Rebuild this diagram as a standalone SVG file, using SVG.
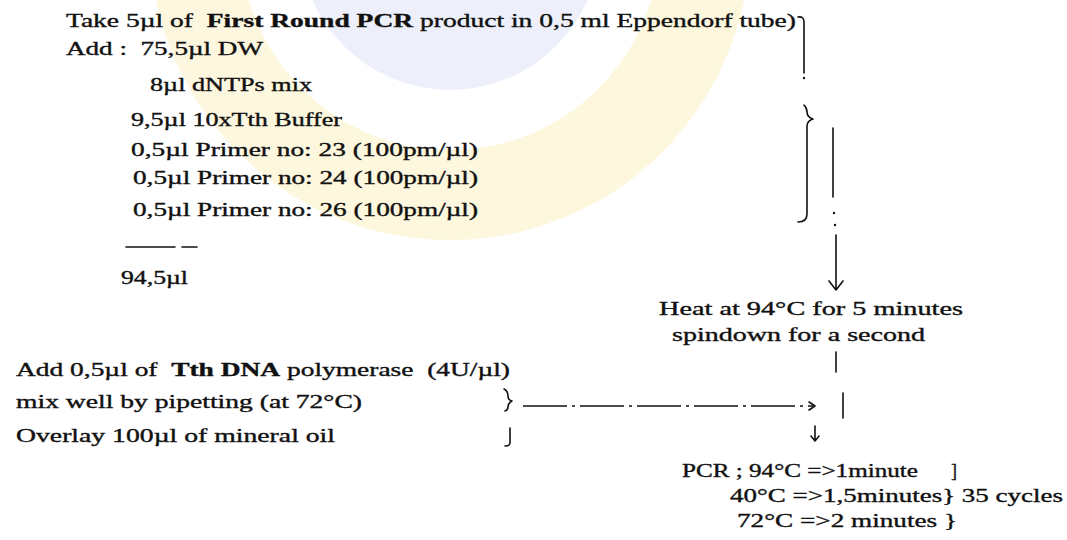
<svg xmlns="http://www.w3.org/2000/svg" width="1067" height="540" viewBox="0 0 1067 540">
<style>
  text { font-family: "Liberation Serif", "Times New Roman", serif; font-size: 18px; fill: #111; stroke: #111; stroke-width: 0.35; white-space: pre; }
  .b { font-weight: bold; }
  .ln { fill: none; stroke: #111; stroke-width: 1.6; stroke-linecap: round; stroke-linejoin: round; }
  .dash { fill: none; stroke: #111; stroke-width: 1.6; stroke-dasharray: 44 5 3 5; }
</style>
<rect width="1067" height="540" fill="#ffffff"/>
<g id="watermark" opacity="0.45">
  <circle cx="450" cy="-60" r="255" fill="none" stroke="#fbeeb8" stroke-width="90"/>
  <circle cx="450" cy="-60" r="150" fill="#d9dcf6"/>
</g>
<g id="step-take">
  <text x="66" y="27" textLength="730" lengthAdjust="spacingAndGlyphs">Take 5µl of  <tspan class="b">First Round PCR</tspan> product in 0,5 ml Eppendorf tube)</text>
</g>
<g id="step-add">
  <text x="66" y="55" textLength="197" lengthAdjust="spacingAndGlyphs">Add :  75,5µl DW</text>
  <text x="150" y="91" textLength="162" lengthAdjust="spacingAndGlyphs">8µl dNTPs mix</text>
  <text x="131" y="126" textLength="211" lengthAdjust="spacingAndGlyphs">9,5µl 10xTth Buffer</text>
  <text x="131" y="156" textLength="347" lengthAdjust="spacingAndGlyphs">0,5µl Primer no: 23 (100pm/µl)</text>
  <text x="133" y="184" textLength="345" lengthAdjust="spacingAndGlyphs">0,5µl Primer no: 24 (100pm/µl)</text>
  <text x="133" y="216" textLength="345" lengthAdjust="spacingAndGlyphs">0,5µl Primer no: 26 (100pm/µl)</text>
  <path class="ln" d="M126,247 H175 M182,247 H197"/>
  <text x="121" y="284" textLength="67" lengthAdjust="spacingAndGlyphs">94,5µl</text>
</g>
<g id="step-heat">
  <text x="659" y="315" textLength="304" lengthAdjust="spacingAndGlyphs">Heat at 94°C for 5 minutes</text>
  <text x="672" y="341" textLength="253" lengthAdjust="spacingAndGlyphs">spindown for a second</text>
</g>
<g id="step-polymerase">
  <text x="16" y="376" textLength="494" lengthAdjust="spacingAndGlyphs">Add 0,5µl of  <tspan class="b">Tth DNA</tspan> polymerase  (4U/µl)</text>
  <text x="16" y="408" textLength="346" lengthAdjust="spacingAndGlyphs">mix well by pipetting (at 72°C)</text>
  <text x="16" y="442" textLength="319" lengthAdjust="spacingAndGlyphs">Overlay 100µl of mineral oil</text>
</g>
<g id="step-pcr">
  <text x="682" y="477" textLength="236" lengthAdjust="spacingAndGlyphs">PCR ; 94°C =&gt;1minute</text>
  <text x="951" y="477">]</text>
  <text x="730" y="502" textLength="333" lengthAdjust="spacingAndGlyphs">40°C =&gt;1,5minutes} 35 cycles</text>
  <text x="737" y="527" textLength="220" lengthAdjust="spacingAndGlyphs">72°C =&gt;2 minutes }</text>
</g>
<g id="connectors">
  <path class="ln" d="M798,17 Q804,16 804,22 V73"/>
  <circle cx="804" cy="78" r="1.2" fill="#111"/>
  <path class="ln" d="M804,105 Q807,108 807,112 Q807,117 813,119 Q807,121 807,126 V214 Q807,222 798,222"/>
  <path class="ln" d="M833,128 V197"/>
  <circle cx="834" cy="213" r="1.2" fill="#111"/>
  <circle cx="835" cy="225" r="1.2" fill="#111"/>
  <path class="ln" d="M836,235 V290 M829,281 L836,290 L843,281"/>
  <path class="ln" d="M836,352 V372"/>
  <path class="ln" d="M504,389 Q508,391 508,396 Q508,400 512,401 Q508,403 508,407 Q508,410 505,411"/>
  <path class="dash" d="M523,406 H813"/>
  <path class="ln" d="M809,402 L815,406 L809,410"/>
  <path class="ln" d="M843,393 V418"/>
  <path class="ln" d="M510,428 V443 Q510,446 505,446"/>
  <path class="ln" d="M815,426 V441 M811,436 L815,441 L819,436"/>
</g>
</svg>
